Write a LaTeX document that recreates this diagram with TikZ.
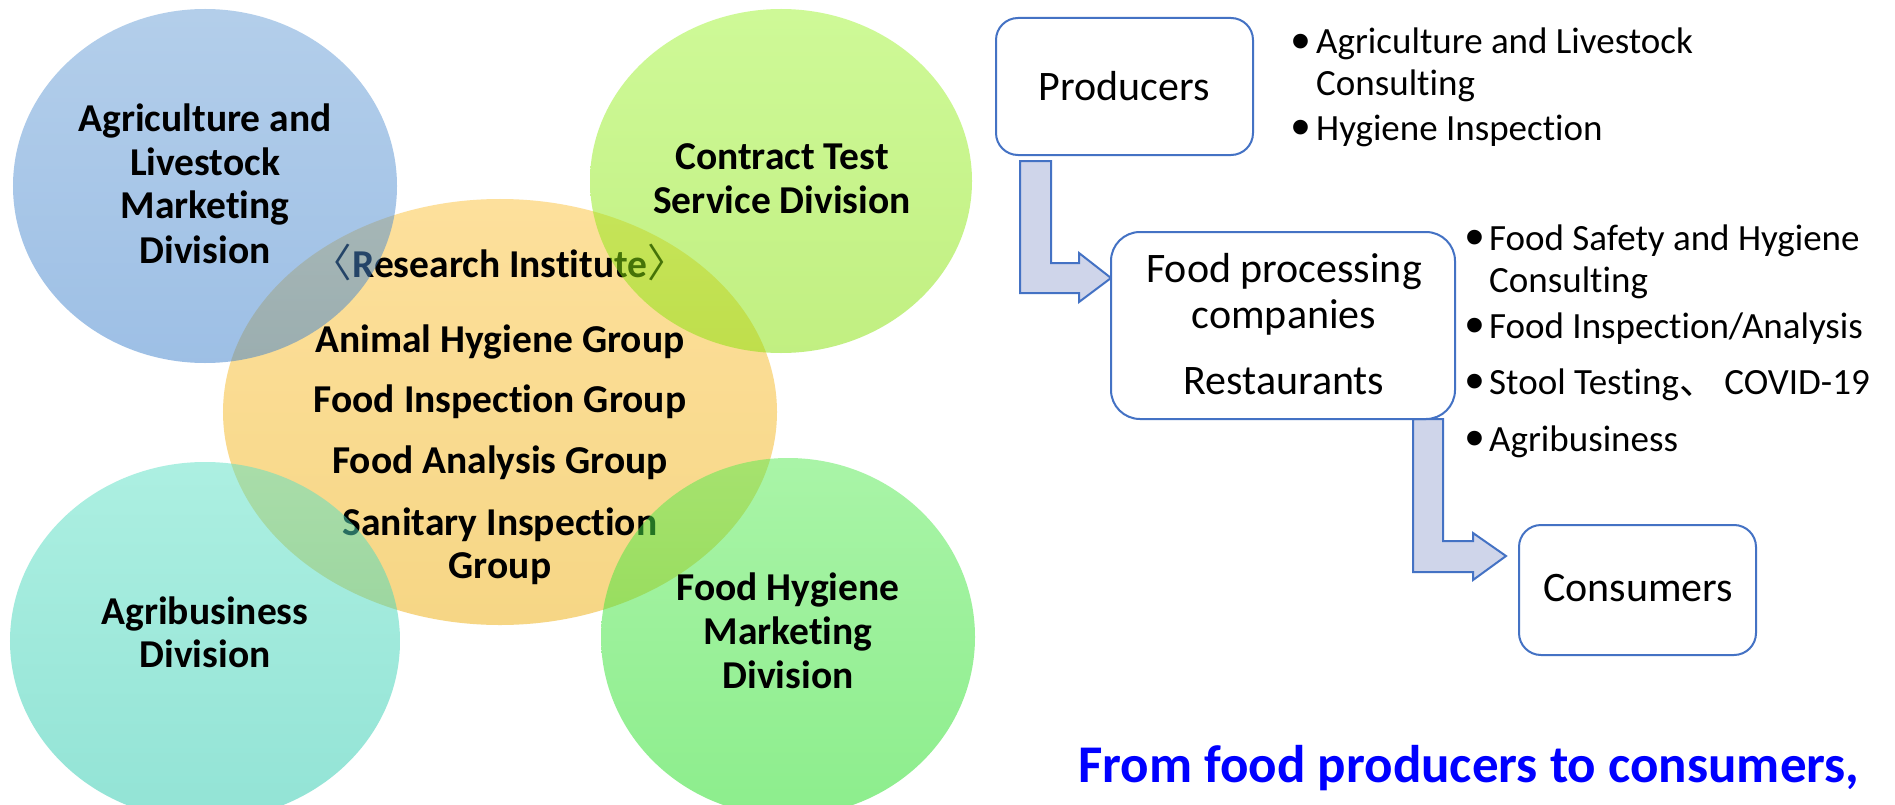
\documentclass[tikz,border=0pt]{standalone}
\usepackage{fontspec}
\setmainfont{Carlito}[Ligatures=NoCommon]
\newfontfamily\cjk{Noto Sans CJK JP}
\newfontfamily\bulletfont{Liberation Sans}
\usetikzlibrary{shapes.geometric}
\definecolor{boxblue}{HTML}{4472C4}
\definecolor{arrowfill}{HTML}{CFD5EA}
\definecolor{blueTop}{RGB}{105,159,215}
\definecolor{blueBot}{RGB}{61,129,205}
\definecolor{limeTop}{RGB}{159,245,49}
\definecolor{limeBot}{RGB}{133,225,5}
\definecolor{tealTop}{RGB}{91,225,197}
\definecolor{tealBot}{RGB}{39,201,173}
\definecolor{greenTop}{RGB}{85,235,81}
\definecolor{greenBot}{RGB}{27,221,27}
\definecolor{orTop}{HTML}{FDE09C}
\definecolor{orBot}{HTML}{F6D685}
\definecolor{slogan}{HTML}{0000FF}
\begin{document}
\begin{tikzpicture}[x=1bp,y=-1bp,
  circ/.style={ellipse, inner sep=0pt, draw=none},
  trans/.style={fill opacity=0.5},
  bl/.style={anchor=base, inner sep=0pt, font=\fontsize{39.5bp}{44bp}\selectfont\bfseries},
  rl/.style={anchor=base, inner sep=0pt, font=\fontsize{42bp}{48bp}\selectfont},
  bt/.style={anchor=base west, inner sep=0pt, font=\fontsize{37bp}{41bp}\selectfont},
  bd/.style={anchor=base, inner sep=0pt, yshift=-5.5bp, font=\fontsize{54bp}{41bp}\selectfont\bulletfont},
  box/.style={draw=boxblue, line width=2bp, fill=white, inner sep=0pt},
  barrow/.style={draw=boxblue, line width=2bp, fill=arrowfill, line join=miter}]
\useasboundingbox (0,0) rectangle (1895,805);
\clip (0,0) rectangle (1895,805);
\fill[white] (0,0) rectangle (1895,805);

% central ellipse and its text
\node[circ, top color=orTop, bottom color=orBot, minimum width=554bp, minimum height=426bp] (orangeC) at (500,412) {};
\node[bl] (ri) at (500,277) {{\cjk\mdseries 〈}Research Institute{\cjk\mdseries 〉}};
\node[bl] (g1) at (500,352) {Animal Hygiene Group};
\node[bl] (g2) at (500,412) {Food Inspection Group};
\node[bl] (g3) at (500,473) {Food Analysis Group};
\node[bl] (g4) at (500,535) {Sanitary Inspection};
\node[bl] (g5) at (500,578.5) {Group};

% outer circles (semi-transparent, on top)
\node[circ, trans, top color=blueTop, bottom color=blueBot, minimum width=384bp, minimum height=354bp] (blueC) at (205,186) {};
\node[circ, trans, top color=limeTop, bottom color=limeBot, minimum width=382bp, minimum height=344bp] (limeC) at (781,181) {};
\node[circ, trans, top color=tealTop, bottom color=tealBot, minimum width=390bp, minimum height=358bp] (tealC) at (205,641) {};
\node[circ, trans, top color=greenTop, bottom color=greenBot, minimum width=374bp, minimum height=358bp] (greenC) at (788,637) {};

\node[bl] (b1) at (205,131) {Agriculture and};
\node[bl] (b2) at (205,175) {Livestock};
\node[bl] (b3) at (205,218) {Marketing};
\node[bl] (b4) at (205,263) {Division};

\node[bl] (c1) at (782,169) {Contract Test};
\node[bl] (c2) at (782,213) {Service Division};

\node[bl] (a1) at (205,624) {Agribusiness};
\node[bl] (a2) at (205,667) {Division};

\node[bl] (f1) at (788,600.6) {Food Hygiene};
\node[bl] (f2) at (788,644) {Marketing};
\node[bl] (f3) at (788,688) {Division};

% block arrows
\coordinate (p1) at (1020,161);
\coordinate (p2) at (1051,161);
\coordinate (p3) at (1051,263);
\coordinate (p4) at (1079,263);
\coordinate (p5) at (1079,253);
\coordinate (p6) at (1111,278);
\coordinate (p7) at (1079,302);
\coordinate (p8) at (1079,293);
\coordinate (p9) at (1020,293);
\draw[barrow] (p1) -- (p2) -- (p3) -- (p4) -- (p5) -- (p6) -- (p7) -- (p8) -- (p9) -- cycle;

\coordinate (q1) at (1413,419);
\coordinate (q2) at (1443,419);
\coordinate (q3) at (1443,541);
\coordinate (q4) at (1473,541);
\coordinate (q5) at (1473,533);
\coordinate (q6) at (1506,556);
\coordinate (q7) at (1473,580);
\coordinate (q8) at (1473,572);
\coordinate (q9) at (1413,572);
\draw[barrow] (q1) -- (q2) -- (q3) -- (q4) -- (q5) -- (q6) -- (q7) -- (q8) -- (q9) -- cycle;

% boxes
\node[box, rounded corners=22bp, minimum width=257bp, minimum height=137bp] (prod) at (1124.5,86.5) {};
\node[box, rounded corners=29bp, minimum width=344bp, minimum height=187bp] (fp) at (1283,325.5) {};
\node[box, rounded corners=22bp, minimum width=237bp, minimum height=130bp] (cons) at (1637.5,590) {};

\node[rl] (prodT) at (1124,100) {Producers};
\node[rl] (fpT1) at (1284,282) {Food processing};
\node[rl] (fpT2) at (1284,328.5) {companies};
\node[rl] (fpT3) at (1284,394) {Restaurants};
\node[rl] (consT) at (1638,601.6) {Consumers};

% bullet list 1
\node[bd] (d1) at (1301,54) {•};
\node[bt] (u1) at (1316,54) {Agriculture and Livestock};
\node[bt] (u1b) at (1316,95) {Consulting};
\node[bd] (d2) at (1301,140) {•};
\node[bt] (u2) at (1316,140) {Hygiene Inspection};

% bullet list 2
\node[bd] (e1) at (1475,250) {•};
\node[bt] (v1) at (1489,250) {Food Safety and Hygiene};
\node[bt] (v1b) at (1489,292) {Consulting};
\node[bd] (e2) at (1475,338) {•};
\node[bt] (v2) at (1489,338) {Food Inspection/Analysis};
\node[bd] (e3) at (1475,394) {•};
\node[bt] (v3) at (1489,394) {Stool Testing{\cjk 、} COVID-19};
\node[bd] (e4) at (1475,451) {•};
\node[bt] (v4) at (1489,451) {Agribusiness};

% slogan
\node[anchor=base, inner sep=0pt, text=slogan, font=\fontsize{53bp}{60bp}\selectfont\bfseries] (slog) at (1469,782) {From food producers to consumers,};
\end{tikzpicture}
\end{document}
